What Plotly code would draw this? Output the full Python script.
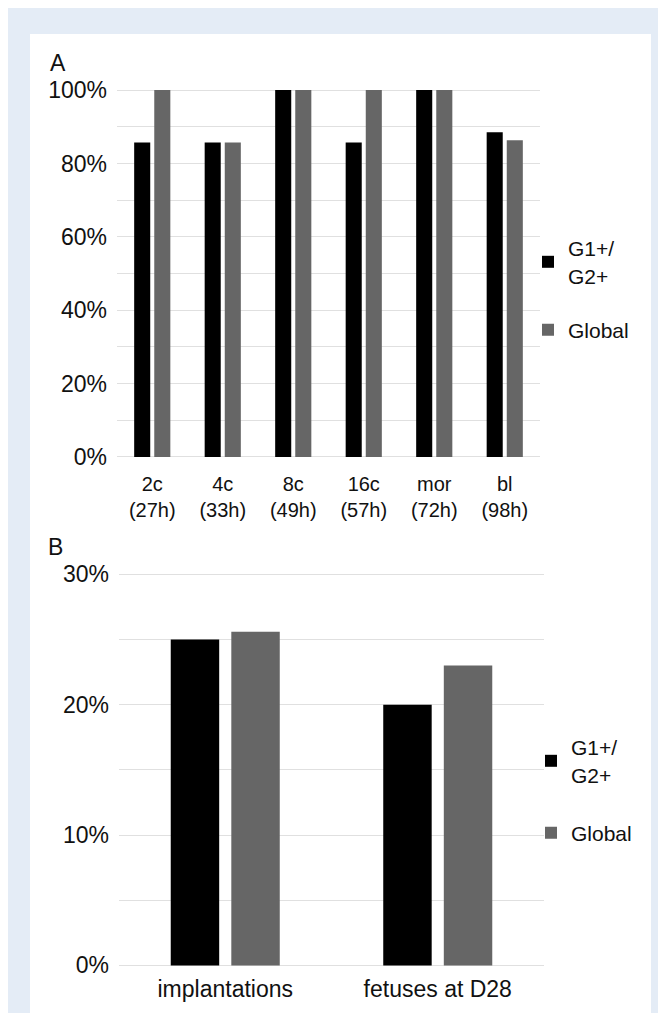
import plotly.graph_objects as go

# ---------------- data ----------------
stages = ["2c<br>(27h)", "4c<br>(33h)", "8c<br>(49h)", "16c<br>(57h)", "mor<br>(72h)", "bl<br>(98h)"]
g1g2_a = [0.857, 0.857, 1.0, 0.857, 1.0, 0.885]
global_a = [1.0, 0.857, 1.0, 1.0, 1.0, 0.863]

outcomes = ["implantations", "fetuses at D28"]
g1g2_b = [0.250, 0.200]
global_b = [0.256, 0.230]

series_names = ["G1+/<br>G2+", "Global"]
series_colors = ["#000000", "#666666"]

# ---------------- geometry helpers (page px -> paper; page has 8px body margin) ----------------
W, H = 666, 1013
OFF = 8
def fx(x):
    return (x - OFF) / W
def fy(y):
    return 1 - (y - OFF) / H

FONT = "Liberation Sans, Arial, sans-serif"
TXT = "#111111"
GRID = "#E0E0E0"

fig = go.Figure()

for name, vals, col, gid in [(series_names[0], g1g2_a, series_colors[0], "a1"),
                             (series_names[1], global_a, series_colors[1], "a2")]:
    fig.add_trace(go.Bar(x=stages, y=vals, name=name, marker=dict(color=col, line=dict(width=0)),
                         xaxis="x", yaxis="y", legend="legend", legendgroup=gid))

for name, vals, col, gid in [(series_names[0], g1g2_b, series_colors[0], "b1"),
                             (series_names[1], global_b, series_colors[1], "b2")]:
    fig.add_trace(go.Bar(x=outcomes, y=vals, name=name, marker=dict(color=col, line=dict(width=0)),
                         xaxis="x2", yaxis="y2", legend="legend2", legendgroup=gid))

axis_common = dict(showline=False, ticks="", zeroline=False, automargin=False)

fig.update_layout(
    width=W, height=H,
    margin=dict(l=0, r=0, t=0, b=0),
    paper_bgcolor="#E4ECF6",
    plot_bgcolor="#FFFFFF",
    font=dict(family=FONT, color=TXT),
    barmode="group", bargap=0.43, bargroupgap=0.2,
    xaxis=dict(domain=[fx(117), fx(540)], anchor="y", showgrid=False,
               tickfont=dict(size=20, color=TXT), ticklabelstandoff=12, **axis_common),
    yaxis=dict(domain=[fy(458), fy(89)], anchor="x", range=[-0.003, 1.003], dtick=0.2, tickformat=".0%",
               showgrid=True, gridcolor=GRID, gridwidth=1,
               minor=dict(dtick=0.1, showgrid=True, gridcolor=GRID, gridwidth=1),
               tickfont=dict(size=23, color=TXT), ticklabelstandoff=9, **axis_common),
    xaxis2=dict(domain=[fx(119), fx(544)], anchor="y2", showgrid=False,
                tickfont=dict(size=23, color=TXT), ticklabelstandoff=6, **axis_common),
    yaxis2=dict(domain=[fy(966.7), fy(573)], anchor="x2", range=[-0.001, 0.301], dtick=0.1, tickformat=".0%",
                showgrid=True, gridcolor=GRID, gridwidth=1,
                minor=dict(dtick=0.05, showgrid=True, gridcolor=GRID, gridwidth=1),
                tickfont=dict(size=23, color=TXT), ticklabelstandoff=9, **axis_common),
    legend=dict(x=fx(528), xanchor="left", y=fy(228), yanchor="top",
                bgcolor="rgba(0,0,0,0)", font=dict(size=21, color=TXT),
                traceorder="grouped", tracegroupgap=24),
    legend2=dict(x=fx(531), xanchor="left", y=fy(727), yanchor="top",
                 bgcolor="rgba(0,0,0,0)", font=dict(size=21, color=TXT),
                 traceorder="grouped", tracegroupgap=28),
    shapes=[
        dict(type="rect", xref="paper", yref="paper", x0=fx(30), x1=fx(651), y0=-0.05, y1=fy(34),
             fillcolor="#FFFFFF", line=dict(width=0), layer="below"),
    ],
    annotations=[
        dict(text="A", xref="paper", yref="paper", x=fx(48), y=fy(48), xanchor="left", yanchor="top",
             showarrow=False, font=dict(size=23, color=TXT)),
        dict(text="B", xref="paper", yref="paper", x=fx(46), y=fy(532), xanchor="left", yanchor="top",
             showarrow=False, font=dict(size=23, color=TXT)),
    ],
)

fig.write_html("out.html")
